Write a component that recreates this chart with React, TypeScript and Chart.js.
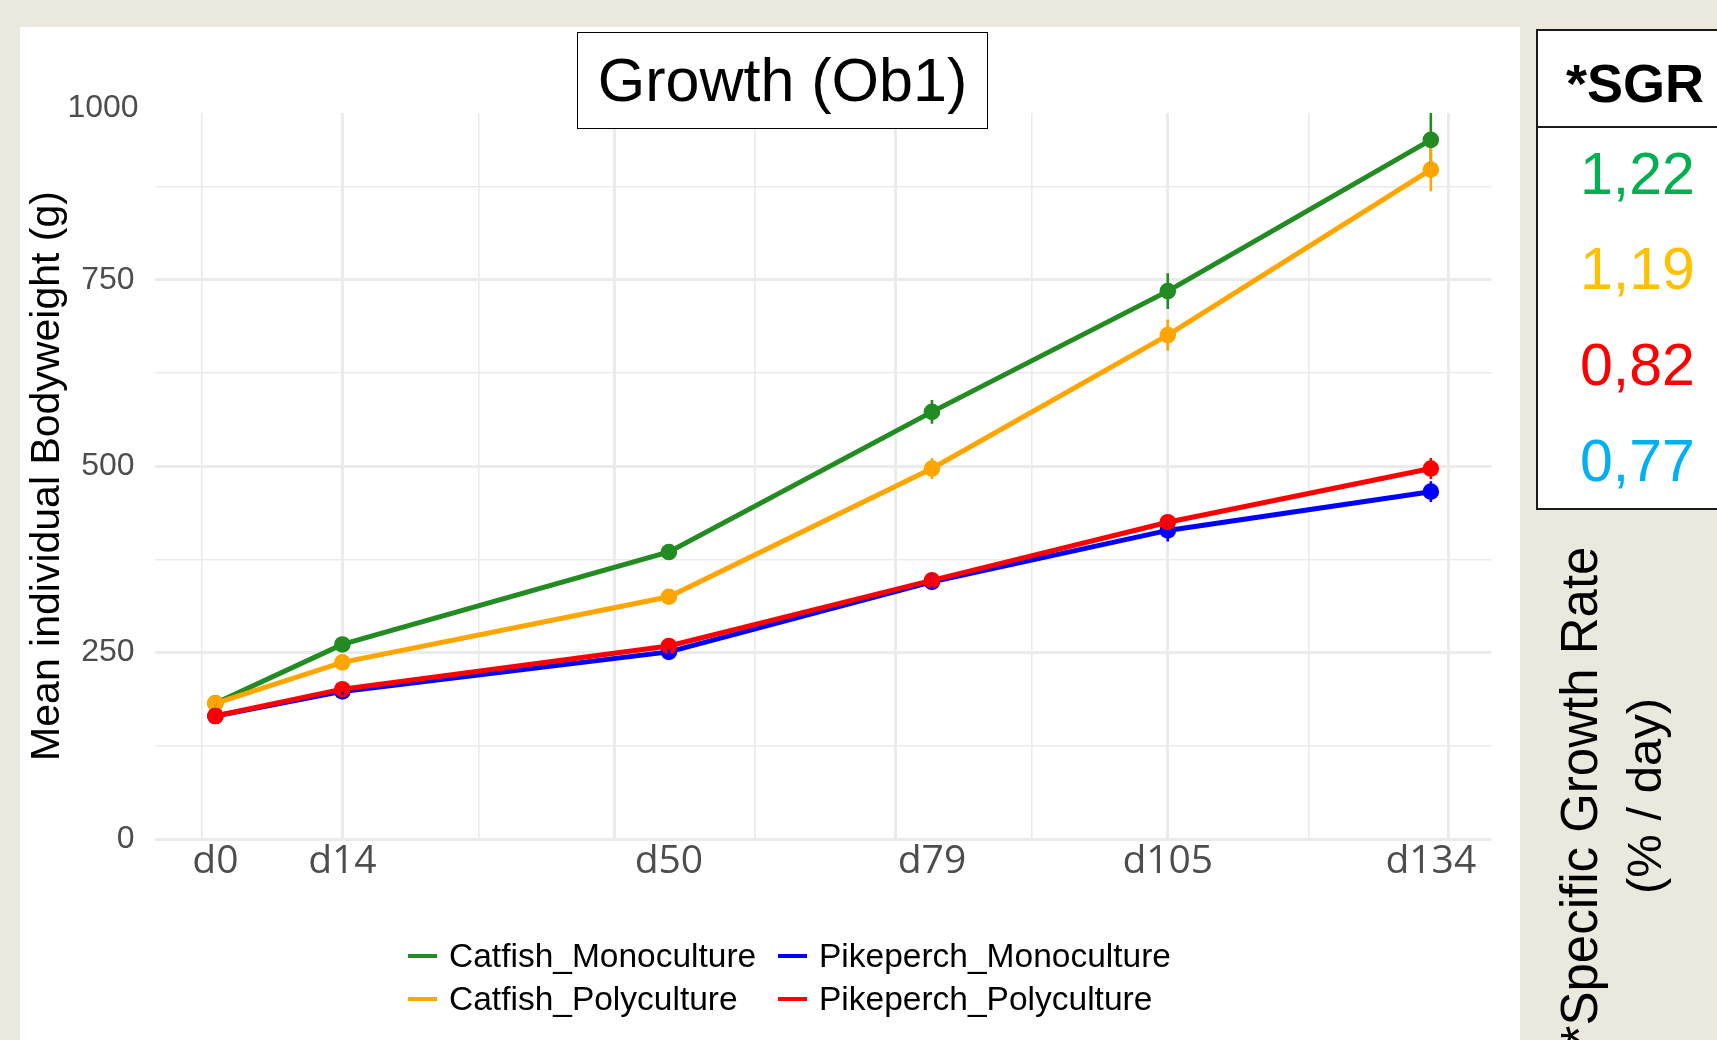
import React, { useEffect, useRef } from "react";
import { Chart, registerables } from "chart.js";

Chart.register(...registerables);

// ---------- data ----------
const seriesNames = [
  "Catfish_Monoculture",
  "Catfish_Polyculture",
  "Pikeperch_Monoculture",
  "Pikeperch_Polyculture",
];
const seriesColors = ["#228B22", "#FFA500", "#0000FF", "#FF0000"];

const sampleDays = [0, 14, 50, 79, 105, 134];
const xTickLabels = ["d0", "d14", "d50", "d79", "d105", "d134"];

const catfishMono = [182, 261, 385, 573, 735, 938];
const catfishPoly = [182, 237, 325, 497, 676, 898];
const pikeMono = [165, 198, 251, 345, 414, 466];
const pikePoly = [165, 201, 259, 347, 425, 497];

const catfishMonoErr = [3, 5, 6, 16, 24, 36];
const catfishPolyErr = [3, 5, 6, 14, 21, 29];
const pikeMonoErr = [3, 4, 5, 11, 15, 14];
const pikePolyErr = [3, 4, 5, 8, 10, 14];

const yMajorTicks = [0, 250, 500, 750];
const yMinorTicks = [125, 375, 625, 875];
const yTopLabel = "1000";

const gridMajorDays = [14, 44, 75, 105, 136];
const gridMinorDays = [-1.5, 29, 59.5, 90, 120.5];

const chartTitle = "Growth (Ob1)";
const yTitle = "Mean individual Bodyweight (g)";

const sgrHeader = "*SGR";
const sgrValues = ["1,22", "1,19", "0,82", "0,77"];
const sgrColors = ["#00B050", "#FFC000", "#FF0000", "#00B0F0"];
const sgrNote = ["*Specific Growth Rate", "(% / day)"];

// legend filled column by column (2 rows x 2 columns)
const legendOrder = [0, 1, 2, 3];

const SANS = "'Liberation Sans', Arial, sans-serif";

export default function App() {
  const canvasRef = useRef<HTMLCanvasElement | null>(null);

  useEffect(() => {
    const canvas = canvasRef.current;
    if (!canvas) return;

    const series = [catfishMono, catfishPoly, pikeMono, pikePoly];
    const errs = [catfishMonoErr, catfishPolyErr, pikeMonoErr, pikePolyErr];

    const xSpan = sampleDays[sampleDays.length - 1] - sampleDays[0];
    const xMin = sampleDays[0] - 0.05 * xSpan;
    const xMax = sampleDays[sampleDays.length - 1] + 0.05 * xSpan;
    let yMax = 0;
    series.forEach((vals, s) =>
      vals.forEach((v, i) => {
        yMax = Math.max(yMax, v + errs[s][i]);
      })
    );

    const datasets = series.map((vals, s) => ({
      label: seriesNames[s],
      data: vals.map((v, i) => ({ x: sampleDays[i], y: v })),
      borderColor: seriesColors[s],
      backgroundColor: seriesColors[s],
      pointBackgroundColor: seriesColors[s],
      pointBorderColor: seriesColors[s],
      pointBorderWidth: 0,
      pointRadius: 8.3,
      pointHoverRadius: 8.3,
      borderWidth: 5,
      tension: 0,
      fill: false,
      order: series.length - 1 - s,
      xAxisID: "x",
      yAxisID: "y",
    }));

    const errorBarPlugin = {
      id: "errorBars",
      afterDatasetsDraw(chart: any) {
        const { ctx, chartArea: a, scales } = chart;
        const xs = scales.x;
        const ys = scales.y;
        ctx.save();
        ctx.beginPath();
        ctx.rect(a.left, a.top, a.right - a.left, a.bottom - a.top);
        ctx.clip();
        ctx.lineWidth = 2.6;
        ctx.lineCap = "butt";
        series.forEach((vals, s) => {
          ctx.strokeStyle = seriesColors[s];
          vals.forEach((v, i) => {
            const x = xs.getPixelForValue(sampleDays[i]);
            ctx.beginPath();
            ctx.moveTo(x, ys.getPixelForValue(v - errs[s][i]));
            ctx.lineTo(x, ys.getPixelForValue(v + errs[s][i]));
            ctx.stroke();
          });
        });
        ctx.restore();
      },
    };

    const topLabelPlugin = {
      id: "topLabel",
      afterDraw(chart: any) {
        const { ctx, chartArea: a } = chart;
        ctx.save();
        ctx.font = `32px ${SANS}`;
        ctx.fillStyle = "#4D4D4D";
        ctx.textAlign = "right";
        ctx.textBaseline = "middle";
        ctx.fillText(yTopLabel, a.left - 16, a.top - 5);
        ctx.restore();
      },
    };

    const chart = new Chart(canvas, {
      type: "line",
      data: { datasets } as any,
      options: {
        animation: false,
        responsive: true,
        maintainAspectRatio: false,
        events: [],
        layout: { padding: { top: 86, right: 28.4, bottom: 161, left: 0 } },
        plugins: {
          legend: { display: false },
          tooltip: { enabled: false },
          title: { display: false },
        },
        scales: {
          x: {
            type: "linear",
            position: "bottom",
            min: xMin,
            max: xMax,
            afterBuildTicks: (s: any) => {
              s.ticks = sampleDays.map((v) => ({ value: v }));
            },
            afterFit: (s: any) => {
              s.height = 40;
            },
            ticks: {
              autoSkip: false,
              maxRotation: 0,
              minRotation: 0,
              padding: 3,
              color: "#4D4D4D",
              font: { family: "'Open Sans', sans-serif", size: 39, lineHeight: 1 },
              callback: (v: any) => {
                const i = sampleDays.indexOf(Number(v));
                return i >= 0 ? xTickLabels[i] : "";
              },
            },
            grid: { display: false, drawTicks: false },
            border: { display: false },
          },
          xg: {
            type: "linear",
            position: "bottom",
            min: xMin,
            max: xMax,
            afterBuildTicks: (s: any) => {
              s.ticks = [...gridMinorDays, ...gridMajorDays]
                .sort((a, b) => a - b)
                .map((v) => ({ value: v }));
            },
            afterFit: (s: any) => {
              s.height = 0;
            },
            ticks: { display: false },
            grid: {
              drawTicks: false,
              color: "#EBEBEB",
              lineWidth: (c: any) =>
                c.tick && gridMajorDays.includes(c.tick.value) ? 3 : 1.6,
            },
            border: { display: false },
          },
          y: {
            type: "linear",
            position: "left",
            min: 0,
            max: yMax,
            afterBuildTicks: (s: any) => {
              s.ticks = [...yMajorTicks, ...yMinorTicks]
                .sort((a, b) => a - b)
                .map((v) => ({ value: v }));
            },
            afterFit: (s: any) => {
              s.width = 134.6;
            },
            ticks: {
              padding: 20,
              color: "#4D4D4D",
              font: { family: SANS, size: 32 },
              callback: (v: any) =>
                yMajorTicks.includes(Number(v)) ? String(v) : "",
            },
            grid: {
              drawTicks: false,
              color: "#EBEBEB",
              lineWidth: (c: any) =>
                c.tick && yMajorTicks.includes(c.tick.value) ? 3 : 1.6,
            },
            border: { display: false },
            title: {
              display: true,
              text: yTitle,
              color: "#000000",
              font: { family: SANS, size: 41, lineHeight: 1.2 },
              padding: { top: 3.2, bottom: 0 },
            },
          },
        },
      } as any,
      plugins: [errorBarPlugin, topLabelPlugin],
    });

    return () => chart.destroy();
  }, []);

  const sgrCenters = [174, 269, 365, 461];

  return (
    <div
      style={{
        position: "fixed",
        left: 0,
        top: 0,
        width: 1717,
        height: 1040,
        overflow: "hidden",
        background: "#EBE9DD",
        fontFamily: SANS,
      }}
    >
      {/* white chart panel */}
      <div
        style={{
          position: "absolute",
          left: 20,
          top: 27,
          width: 1500,
          height: 1013,
          background: "#FFFFFF",
        }}
      />
      <div
        style={{
          position: "absolute",
          left: 20,
          top: 27,
          width: 1500,
          height: 1013,
        }}
      >
        <canvas ref={canvasRef} style={{ display: "block" }} />
      </div>

      {/* title box */}
      <div
        style={{
          position: "absolute",
          left: 577,
          top: 32,
          width: 411,
          height: 97,
          boxSizing: "border-box",
          border: "1.5px solid #000",
          background: "#FFFFFF",
          display: "flex",
          alignItems: "center",
          justifyContent: "center",
          fontSize: 61,
          lineHeight: 1,
          color: "#000",
          whiteSpace: "nowrap",
        }}
      >
        {chartTitle}
      </div>

      {/* legend */}
      {legendOrder.map((s, k) => {
        const col = Math.floor(k / 2);
        const row = k % 2;
        const left = col === 0 ? 408 : 778;
        const cy = row === 0 ? 956 : 999;
        return (
          <div
            key={s}
            style={{
              position: "absolute",
              left,
              top: cy - 17,
              height: 34,
              display: "flex",
              alignItems: "center",
              whiteSpace: "nowrap",
            }}
          >
            <div
              style={{
                width: 29,
                height: 4,
                background: seriesColors[s],
                marginRight: 12,
              }}
            />
            <span style={{ fontSize: 33.5, lineHeight: 1, color: "#000" }}>
              {seriesNames[s]}
            </span>
          </div>
        );
      })}

      {/* SGR table */}
      <div
        style={{
          position: "absolute",
          left: 1536,
          top: 29,
          width: 260,
          height: 481,
          boxSizing: "border-box",
          border: "2.5px solid #1A1A1A",
          background: "#FFFFFF",
        }}
      >
        <div
          style={{
            position: "absolute",
            left: 0,
            right: 0,
            top: 94.5,
            height: 2.5,
            background: "#1A1A1A",
          }}
        />
      </div>
      <div
        style={{
          position: "absolute",
          left: 1566,
          top: 83 - 27,
          fontSize: 54,
          lineHeight: 1,
          fontWeight: "bold",
          color: "#000",
          whiteSpace: "nowrap",
        }}
      >
        {sgrHeader}
      </div>
      {sgrValues.map((v, i) => (
        <div
          key={v}
          style={{
            position: "absolute",
            left: 1580,
            top: sgrCenters[i] - 29,
            fontSize: 59,
            lineHeight: 1,
            color: sgrColors[i],
            whiteSpace: "nowrap",
          }}
        >
          {v}
        </div>
      ))}

      {/* rotated note */}
      <div
        style={{
          position: "absolute",
          left: 1612 - 300,
          top: 796 - 65,
          width: 600,
          height: 130,
          transform: "rotate(-90deg)",
          fontSize: 51,
          lineHeight: "65px",
          textAlign: "center",
          color: "#000",
          whiteSpace: "nowrap",
        }}
      >
        <div>{sgrNote[0]}</div>
        <div style={{ fontSize: 49 }}>{sgrNote[1]}</div>
      </div>
    </div>
  );
}
